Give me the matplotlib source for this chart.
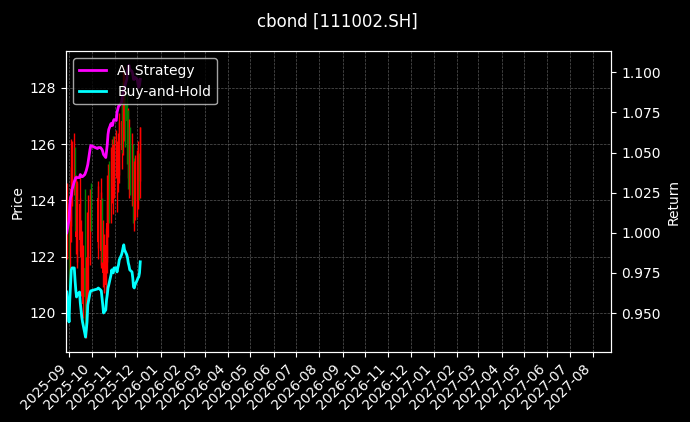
import matplotlib
matplotlib.use("Agg")
import matplotlib.pyplot as plt
import matplotlib.dates as mdates
import numpy as np
import pandas as pd

# ---- data ----
dates = pd.to_datetime([
    "2025-08-29",
    "2025-09-01", "2025-09-02", "2025-09-03", "2025-09-04", "2025-09-05",
    "2025-09-08", "2025-09-09", "2025-09-10", "2025-09-11", "2025-09-12",
    "2025-09-15", "2025-09-16", "2025-09-17", "2025-09-18", "2025-09-19",
    "2025-09-22", "2025-09-23", "2025-09-24", "2025-09-25", "2025-09-26",
    "2025-09-29", "2025-09-30",
    "2025-10-09", "2025-10-10",
    "2025-10-13", "2025-10-14", "2025-10-15", "2025-10-16", "2025-10-17",
    "2025-10-20", "2025-10-21", "2025-10-22", "2025-10-23", "2025-10-24",
    "2025-10-27", "2025-10-28", "2025-10-29", "2025-10-30", "2025-10-31",
    "2025-11-03", "2025-11-04", "2025-11-05", "2025-11-06", "2025-11-07",
    "2025-11-10", "2025-11-11", "2025-11-12", "2025-11-13", "2025-11-14",
    "2025-11-17", "2025-11-18", "2025-11-19", "2025-11-20", "2025-11-21",
    "2025-11-24", "2025-11-25", "2025-11-26", "2025-11-27", "2025-11-28",
    "2025-12-01", "2025-12-02", "2025-12-03", "2025-12-04", "2025-12-05",
])

open_ = [122.8, 123.6, 121.6, 123.0, 123.9, 124.6, 124.6, 125.5, 122.7, 122.4,
         122.3, 122.6, 122.5, 121.2, 121.2, 120.3, 121.6, 119.6, 119.8, 120.2,
         121.0, 122.2, 124.1, 122.5, 123.0, 122.2, 122.4, 123.9, 121.4, 121.3,
         121.0, 121.9, 122.4, 123.7, 124.6, 123.8, 124.4, 125.9, 124.1, 124.6,
         125.0, 124.4, 124.9, 125.0, 125.4, 125.8, 127.3, 126.2, 126.6, 127.9,
         127.4, 125.4, 126.8, 125.0, 126.2, 124.3, 125.6, 125.2, 123.5, 123.7,
         123.9, 124.1, 125.3, 124.5, 125.2]
high = [124.6, 124.0, 123.8, 125.2, 126.2, 126.1, 126.4, 125.9, 124.9, 124.6,
        124.7, 124.9, 124.1, 123.3, 122.9, 122.4, 124.4, 121.6, 122.0, 123.6,
        124.2, 124.4, 124.6, 124.5, 124.7, 124.8, 124.3, 124.1, 123.3, 122.8,
        123.0, 124.0, 124.9, 125.3, 125.4, 125.9, 126.2, 126.3, 126.0, 126.3,
        126.5, 126.1, 126.4, 126.8, 127.1, 127.5, 128.2, 128.8, 128.5, 128.3,
        127.8, 127.3, 127.2, 126.9, 126.6, 126.4, 126.0, 125.5, 125.4, 125.6,
        125.8, 126.1, 125.7, 126.6, 126.6]
low = [121.9, 120.9, 121.2, 122.5, 123.1, 123.8, 124.2, 122.9, 122.1, 121.8,
       121.6, 122.0, 122.2, 120.6, 120.9, 119.8, 119.5, 119.1, 119.4, 119.9,
       120.6, 121.7, 122.9, 121.9, 122.3, 121.6, 121.7, 121.8, 120.9, 120.7,
       120.6, 121.4, 121.8, 122.7, 123.2, 123.2, 123.9, 124.5, 123.5, 124.1,
       124.8, 123.6, 124.3, 124.6, 124.9, 125.1, 125.7, 125.6, 126.1, 125.9,
       125.3, 124.8, 124.4, 124.1, 124.2, 123.8, 123.2, 123.6, 122.9, 123.3,
       123.4, 123.7, 124.0, 124.1, 124.7]
close = [123.86, 121.45, 123.21, 124.42, 125.63, 125.78, 125.78, 124.82, 124.02, 123.46,
         123.62, 123.86, 122.98, 122.41, 121.85, 121.45, 120.56, 120.24, 120.81, 121.45,
         122.81, 123.78, 123.94, 124.10, 124.18, 124.02, 123.94, 123.38, 122.81, 122.17,
         122.41, 123.21, 123.62, 124.18, 124.42, 125.23, 125.63, 125.46, 125.39, 125.78,
         125.78, 125.46, 125.78, 126.03, 126.43, 126.84, 127.07, 127.39, 127.64, 127.24,
         126.84, 126.59, 126.19, 125.95, 125.63, 125.46, 124.99, 124.27, 124.18, 124.42,
         124.82, 124.99, 125.06, 125.39, 126.27]

ai_strategy = [1.0000, 1.0081, 1.0175, 1.0219, 1.0231, 1.0269, 1.0319, 1.0331, 1.0344, 1.0344,
               1.0344, 1.0344, 1.0363, 1.0356, 1.0350, 1.0350, 1.0363, 1.0375, 1.0388, 1.0406,
               1.0425, 1.0519, 1.0544, 1.0525, 1.0531, 1.0531, 1.0525, 1.0519, 1.0506, 1.0488,
               1.0469, 1.0506, 1.0550, 1.0613, 1.0644, 1.0681, 1.0669, 1.0669, 1.0694, 1.0706,
               1.0700, 1.0750, 1.0769, 1.0788, 1.0794, 1.0813, 1.0844, 1.0869, 1.0894, 1.0906,
               1.0956, 1.1006, 1.1031, 1.1044, 1.1019, 1.1006, 1.0988, 1.0956, 1.0956, 1.0969,
               1.0956, 1.0925, 1.0906, 1.0919, 1.0956]
buy_and_hold = [0.9631, 0.9444, 0.9581, 0.9675, 0.9769, 0.9781, 0.9781, 0.9706, 0.9644, 0.9600,
                0.9613, 0.9631, 0.9563, 0.9519, 0.9475, 0.9444, 0.9375, 0.9350, 0.9394, 0.9444,
                0.9550, 0.9625, 0.9638, 0.9650, 0.9656, 0.9644, 0.9638, 0.9594, 0.9550, 0.9500,
                0.9519, 0.9581, 0.9613, 0.9656, 0.9675, 0.9738, 0.9769, 0.9756, 0.9750, 0.9781,
                0.9781, 0.9756, 0.9781, 0.9800, 0.9831, 0.9863, 0.9881, 0.9906, 0.9925, 0.9894,
                0.9863, 0.9844, 0.9813, 0.9794, 0.9769, 0.9756, 0.9719, 0.9663, 0.9656, 0.9675,
                0.9706, 0.9719, 0.9725, 0.9750, 0.9819]

title = "cbond [111002.SH]"

# ---- plot ----
plt.style.use("dark_background")
fig = plt.figure(figsize=(6.9, 4.22), dpi=100)
ax = fig.add_subplot(111)
fig.subplots_adjust(left=0.0957, right=0.8862, bottom=0.1659, top=0.878)

o = np.array(open_); h = np.array(high); l = np.array(low); c = np.array(close)
up = c >= o
colors = np.where(up, "red", "green")
ax.vlines(dates, l, h, colors=colors, linewidth=1)
ax.bar(dates, c - o, bottom=o, width=0.8, color=colors, linewidth=0)

ax.set_ylabel("Price")
ax.set_ylim(118.6, 129.3)
ax.grid(True, linestyle="--", linewidth=0.5, alpha=0.35)

ax2 = ax.twinx()
ax2.plot(dates, ai_strategy, color="magenta", linewidth=2, label="AI Strategy")
ax2.plot(dates, buy_and_hold, color="cyan", linewidth=2, label="Buy-and-Hold")
ax2.set_ylabel("Return")
ax2.set_ylim(0.9257, 1.1130)
ax2.legend(loc="upper left")

ax.set_xlim(pd.Timestamp("2025-08-28"), pd.Timestamp("2027-08-25 12:00"))
ax.xaxis.set_major_locator(mdates.MonthLocator())
ax.xaxis.set_major_formatter(mdates.DateFormatter("%Y-%m"))
plt.setp(ax.get_xticklabels(), rotation=45, ha="right")

fig.suptitle(title, fontsize=12, x=0.489, y=0.97)

fig.savefig("out.png", dpi=100, facecolor="black")
